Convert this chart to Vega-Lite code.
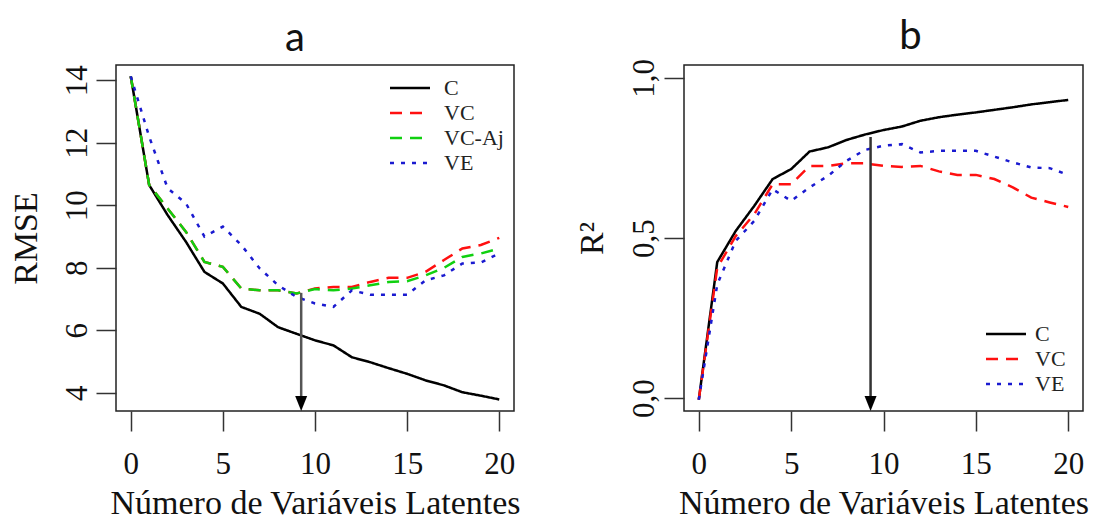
{
  "$schema": "https://vega.github.io/schema/vega-lite/v6.json",
  "background": "white",
  "padding": {"left": 8, "top": 16, "right": 0, "bottom": 0},
  "spacing": 170,
  "bounds": "flush",
  "resolve": {"scale": {"color": "independent", "strokeDash": "independent"}, "legend": {"color": "independent", "strokeDash": "independent"}},
  "datasets": {
    "rmse": [
      {"k":0,"s":"C","v":14.13},{"k":1,"s":"C","v":10.65},{"k":2,"s":"C","v":9.69},{"k":3,"s":"C","v":8.83},{"k":4,"s":"C","v":7.87},{"k":5,"s":"C","v":7.5},{"k":6,"s":"C","v":6.75},{"k":7,"s":"C","v":6.53},{"k":8,"s":"C","v":6.1},{"k":9,"s":"C","v":5.89},{"k":10,"s":"C","v":5.68},{"k":11,"s":"C","v":5.52},{"k":12,"s":"C","v":5.14},{"k":13,"s":"C","v":4.98},{"k":14,"s":"C","v":4.79},{"k":15,"s":"C","v":4.61},{"k":16,"s":"C","v":4.4},{"k":17,"s":"C","v":4.24},{"k":18,"s":"C","v":4.02},{"k":19,"s":"C","v":3.91},{"k":20,"s":"C","v":3.79},
      {"k":0,"s":"VC","v":14.13},{"k":1,"s":"VC","v":10.65},{"k":2,"s":"VC","v":9.9},{"k":3,"s":"VC","v":9.15},{"k":4,"s":"VC","v":8.19},{"k":5,"s":"VC","v":8.03},{"k":6,"s":"VC","v":7.34},{"k":7,"s":"VC","v":7.28},{"k":8,"s":"VC","v":7.28},{"k":9,"s":"VC","v":7.18},{"k":10,"s":"VC","v":7.34},{"k":11,"s":"VC","v":7.39},{"k":12,"s":"VC","v":7.39},{"k":13,"s":"VC","v":7.55},{"k":14,"s":"VC","v":7.68},{"k":15,"s":"VC","v":7.68},{"k":16,"s":"VC","v":7.87},{"k":17,"s":"VC","v":8.25},{"k":18,"s":"VC","v":8.62},{"k":19,"s":"VC","v":8.73},{"k":20,"s":"VC","v":8.96},
      {"k":0,"s":"VC-Aj","v":14.13},{"k":1,"s":"VC-Aj","v":10.65},{"k":2,"s":"VC-Aj","v":9.9},{"k":3,"s":"VC-Aj","v":9.15},{"k":4,"s":"VC-Aj","v":8.19},{"k":5,"s":"VC-Aj","v":8.03},{"k":6,"s":"VC-Aj","v":7.34},{"k":7,"s":"VC-Aj","v":7.28},{"k":8,"s":"VC-Aj","v":7.28},{"k":9,"s":"VC-Aj","v":7.18},{"k":10,"s":"VC-Aj","v":7.32},{"k":11,"s":"VC-Aj","v":7.28},{"k":12,"s":"VC-Aj","v":7.34},{"k":13,"s":"VC-Aj","v":7.44},{"k":14,"s":"VC-Aj","v":7.55},{"k":15,"s":"VC-Aj","v":7.57},{"k":16,"s":"VC-Aj","v":7.76},{"k":17,"s":"VC-Aj","v":8.0},{"k":18,"s":"VC-Aj","v":8.35},{"k":19,"s":"VC-Aj","v":8.46},{"k":20,"s":"VC-Aj","v":8.62},
      {"k":0,"s":"VE","v":14.13},{"k":1,"s":"VE","v":12.2},{"k":2,"s":"VE","v":10.55},{"k":3,"s":"VE","v":10.06},{"k":4,"s":"VE","v":9.0},{"k":5,"s":"VE","v":9.32},{"k":6,"s":"VE","v":8.73},{"k":7,"s":"VE","v":7.98},{"k":8,"s":"VE","v":7.44},{"k":9,"s":"VE","v":7.07},{"k":10,"s":"VE","v":6.86},{"k":11,"s":"VE","v":6.75},{"k":12,"s":"VE","v":7.28},{"k":13,"s":"VE","v":7.14},{"k":14,"s":"VE","v":7.14},{"k":15,"s":"VE","v":7.14},{"k":16,"s":"VE","v":7.6},{"k":17,"s":"VE","v":7.76},{"k":18,"s":"VE","v":8.14},{"k":19,"s":"VE","v":8.17},{"k":20,"s":"VE","v":8.46}
    ],
    "r2": [
      {"k":0,"s":"C","v":-0.005},{"k":1,"s":"C","v":0.425},{"k":2,"s":"C","v":0.522},{"k":3,"s":"C","v":0.6},{"k":4,"s":"C","v":0.684},{"k":5,"s":"C","v":0.715},{"k":6,"s":"C","v":0.77},{"k":7,"s":"C","v":0.783},{"k":8,"s":"C","v":0.806},{"k":9,"s":"C","v":0.823},{"k":10,"s":"C","v":0.837},{"k":11,"s":"C","v":0.848},{"k":12,"s":"C","v":0.866},{"k":13,"s":"C","v":0.877},{"k":14,"s":"C","v":0.885},{"k":15,"s":"C","v":0.892},{"k":16,"s":"C","v":0.9},{"k":17,"s":"C","v":0.908},{"k":18,"s":"C","v":0.917},{"k":19,"s":"C","v":0.924},{"k":20,"s":"C","v":0.931},
      {"k":0,"s":"VC","v":-0.005},{"k":1,"s":"VC","v":0.407},{"k":2,"s":"VC","v":0.506},{"k":3,"s":"VC","v":0.574},{"k":4,"s":"VC","v":0.668},{"k":5,"s":"VC","v":0.668},{"k":6,"s":"VC","v":0.725},{"k":7,"s":"VC","v":0.725},{"k":8,"s":"VC","v":0.733},{"k":9,"s":"VC","v":0.733},{"k":10,"s":"VC","v":0.725},{"k":11,"s":"VC","v":0.722},{"k":12,"s":"VC","v":0.725},{"k":13,"s":"VC","v":0.708},{"k":14,"s":"VC","v":0.697},{"k":15,"s":"VC","v":0.697},{"k":16,"s":"VC","v":0.684},{"k":17,"s":"VC","v":0.658},{"k":18,"s":"VC","v":0.626},{"k":19,"s":"VC","v":0.611},{"k":20,"s":"VC","v":0.597},
      {"k":0,"s":"VE","v":-0.005},{"k":1,"s":"VE","v":0.355},{"k":2,"s":"VE","v":0.491},{"k":3,"s":"VE","v":0.553},{"k":4,"s":"VE","v":0.652},{"k":5,"s":"VE","v":0.616},{"k":6,"s":"VE","v":0.658},{"k":7,"s":"VE","v":0.694},{"k":8,"s":"VE","v":0.741},{"k":9,"s":"VE","v":0.775},{"k":10,"s":"VE","v":0.788},{"k":11,"s":"VE","v":0.793},{"k":12,"s":"VE","v":0.767},{"k":13,"s":"VE","v":0.772},{"k":14,"s":"VE","v":0.772},{"k":15,"s":"VE","v":0.772},{"k":16,"s":"VE","v":0.754},{"k":17,"s":"VE","v":0.736},{"k":18,"s":"VE","v":0.72},{"k":19,"s":"VE","v":0.718},{"k":20,"s":"VE","v":0.697}
    ],
    "arrowA": [{"k":9.25,"v":7.2,"v2":3.6,"tip":3.42}],
    "arrowB": [{"k":9.3,"v":0.815,"v2":0.0,"tip":-0.04}]
  },
  "config": {
    "view": {"stroke": "#222", "strokeWidth": 1.5},
    "axis": {"domain": false, "grid": false, "tickSize": 20, "tickColor": "#333", "tickWidth": 1.5, "labelFont": "Liberation Serif, DejaVu Serif, serif", "labelFontSize": 31, "labelColor": "#111", "labelFlush": false, "labelOverlap": false, "labelBound": false, "titleFont": "Liberation Serif, DejaVu Serif, serif", "titleFontSize": 34, "titleFontWeight": "normal", "titleColor": "#111"},
    "axisX": {"labelAngle": 0, "labelBaseline": "top", "labelPadding": 18, "titleY": 102, "titleBaseline": "alphabetic"},
    "axisY": {"labelAngle": 270, "labelAlign": "center", "labelBaseline": "alphabetic", "labelPadding": 10, "titleAngle": 270, "titleBaseline": "middle", "titleY": 173},
    "title": {"font": "Lato", "fontSize": 40, "fontWeight": "normal", "color": "#111", "anchor": "middle", "frame": "group", "baseline": "alphabetic"},
    "legend": {"orient": "none", "title": null, "symbolType": "M-4,0H4", "symbolSize": 100, "symbolStrokeWidth": 2.5, "labelFont": "Liberation Serif, DejaVu Serif, serif", "labelFontSize": 22, "labelColor": "#222", "rowPadding": 3, "padding": 0}
  },
  "hconcat": [
    {
      "width": 398, "height": 346,
      "title": {"text": "a", "dx": -20, "offset": 6},
      "layer": [
        {
          "data": {"name": "rmse"},
          "mark": {"type": "line", "strokeWidth": 2.5, "clip": true},
          "encoding": {
            "x": {"field": "k", "type": "quantitative", "scale": {"domain": [-0.8, 20.8], "nice": false, "zero": false}, "axis": {"values": [0, 5, 10, 15, 20], "title": "Número de Variáveis Latentes"}},
            "y": {"field": "v", "type": "quantitative", "scale": {"domain": [3.42, 14.49], "nice": false, "zero": false}, "axis": {"values": [4, 6, 8, 10, 12, 14], "title": "RMSE", "titleX": -90}},
            "color": {"field": "s", "type": "nominal", "scale": {"domain": ["C", "VC", "VC-Aj", "VE"], "range": ["#000000", "#ff1010", "#10d010", "#1a1ad0"]}, "legend": {"legendX": 283, "legendY": 12, "labelOffset": 23}},
            "strokeDash": {"field": "s", "type": "nominal", "scale": {"domain": ["C", "VC", "VC-Aj", "VE"], "range": [[1, 0], [12, 8], [12, 8], [4, 7]]}, "legend": {"legendX": 283, "legendY": 12, "labelOffset": 23}}
          }
        },
        {
          "data": {"name": "arrowA"},
          "mark": {"type": "rule", "color": "#555", "strokeWidth": 2.5},
          "encoding": {
            "x": {"field": "k", "type": "quantitative", "title": "Número de Variáveis Latentes"},
            "y": {"field": "v", "type": "quantitative", "title": "RMSE"},
            "y2": {"field": "v2"}
          }
        },
        {
          "data": {"name": "arrowA"},
          "mark": {"type": "point", "shape": "M-0.8,-2L0.8,-2L0,0Z", "filled": true, "color": "#000", "opacity": 1, "size": 225},
          "encoding": {
            "x": {"field": "k", "type": "quantitative", "title": "Número de Variáveis Latentes"},
            "y": {"field": "tip", "type": "quantitative", "title": "RMSE"}
          }
        }
      ]
    },
    {
      "width": 399, "height": 346,
      "title": {"text": "b", "dx": 27, "offset": 1.5},
      "layer": [
        {
          "data": {"name": "r2"},
          "mark": {"type": "line", "strokeWidth": 2.5, "clip": true},
          "encoding": {
            "x": {"field": "k", "type": "quantitative", "scale": {"domain": [-0.8, 20.8], "nice": false, "zero": false}, "axis": {"values": [0, 5, 10, 15, 20], "title": "Número de Variáveis Latentes"}},
            "y": {"field": "v", "type": "quantitative", "scale": {"domain": [-0.04, 1.04], "nice": false, "zero": false}, "axis": {"values": [0, 0.5, 1], "labelExpr": "replace(format(datum.value, '.1f'), '.', ',')", "labelPadding": 11, "title": "R²", "titleX": -92}},
            "color": {"field": "s", "type": "nominal", "scale": {"domain": ["C", "VC", "VE"], "range": ["#000000", "#ff1010", "#1a1ad0"]}, "legend": {"legendX": 311, "legendY": 258, "labelOffset": 18}},
            "strokeDash": {"field": "s", "type": "nominal", "scale": {"domain": ["C", "VC", "VE"], "range": [[1, 0], [12, 8], [4, 7]]}, "legend": {"legendX": 311, "legendY": 258, "labelOffset": 18}}
          }
        },
        {
          "data": {"name": "arrowB"},
          "mark": {"type": "rule", "color": "#333", "strokeWidth": 2.5},
          "encoding": {
            "x": {"field": "k", "type": "quantitative", "title": "Número de Variáveis Latentes"},
            "y": {"field": "v", "type": "quantitative", "title": "R²"},
            "y2": {"field": "v2"}
          }
        },
        {
          "data": {"name": "arrowB"},
          "mark": {"type": "point", "shape": "M-0.8,-2L0.8,-2L0,0Z", "filled": true, "color": "#000", "opacity": 1, "size": 225},
          "encoding": {
            "x": {"field": "k", "type": "quantitative", "title": "Número de Variáveis Latentes"},
            "y": {"field": "tip", "type": "quantitative", "title": "R²"}
          }
        }
      ]
    }
  ]
}
